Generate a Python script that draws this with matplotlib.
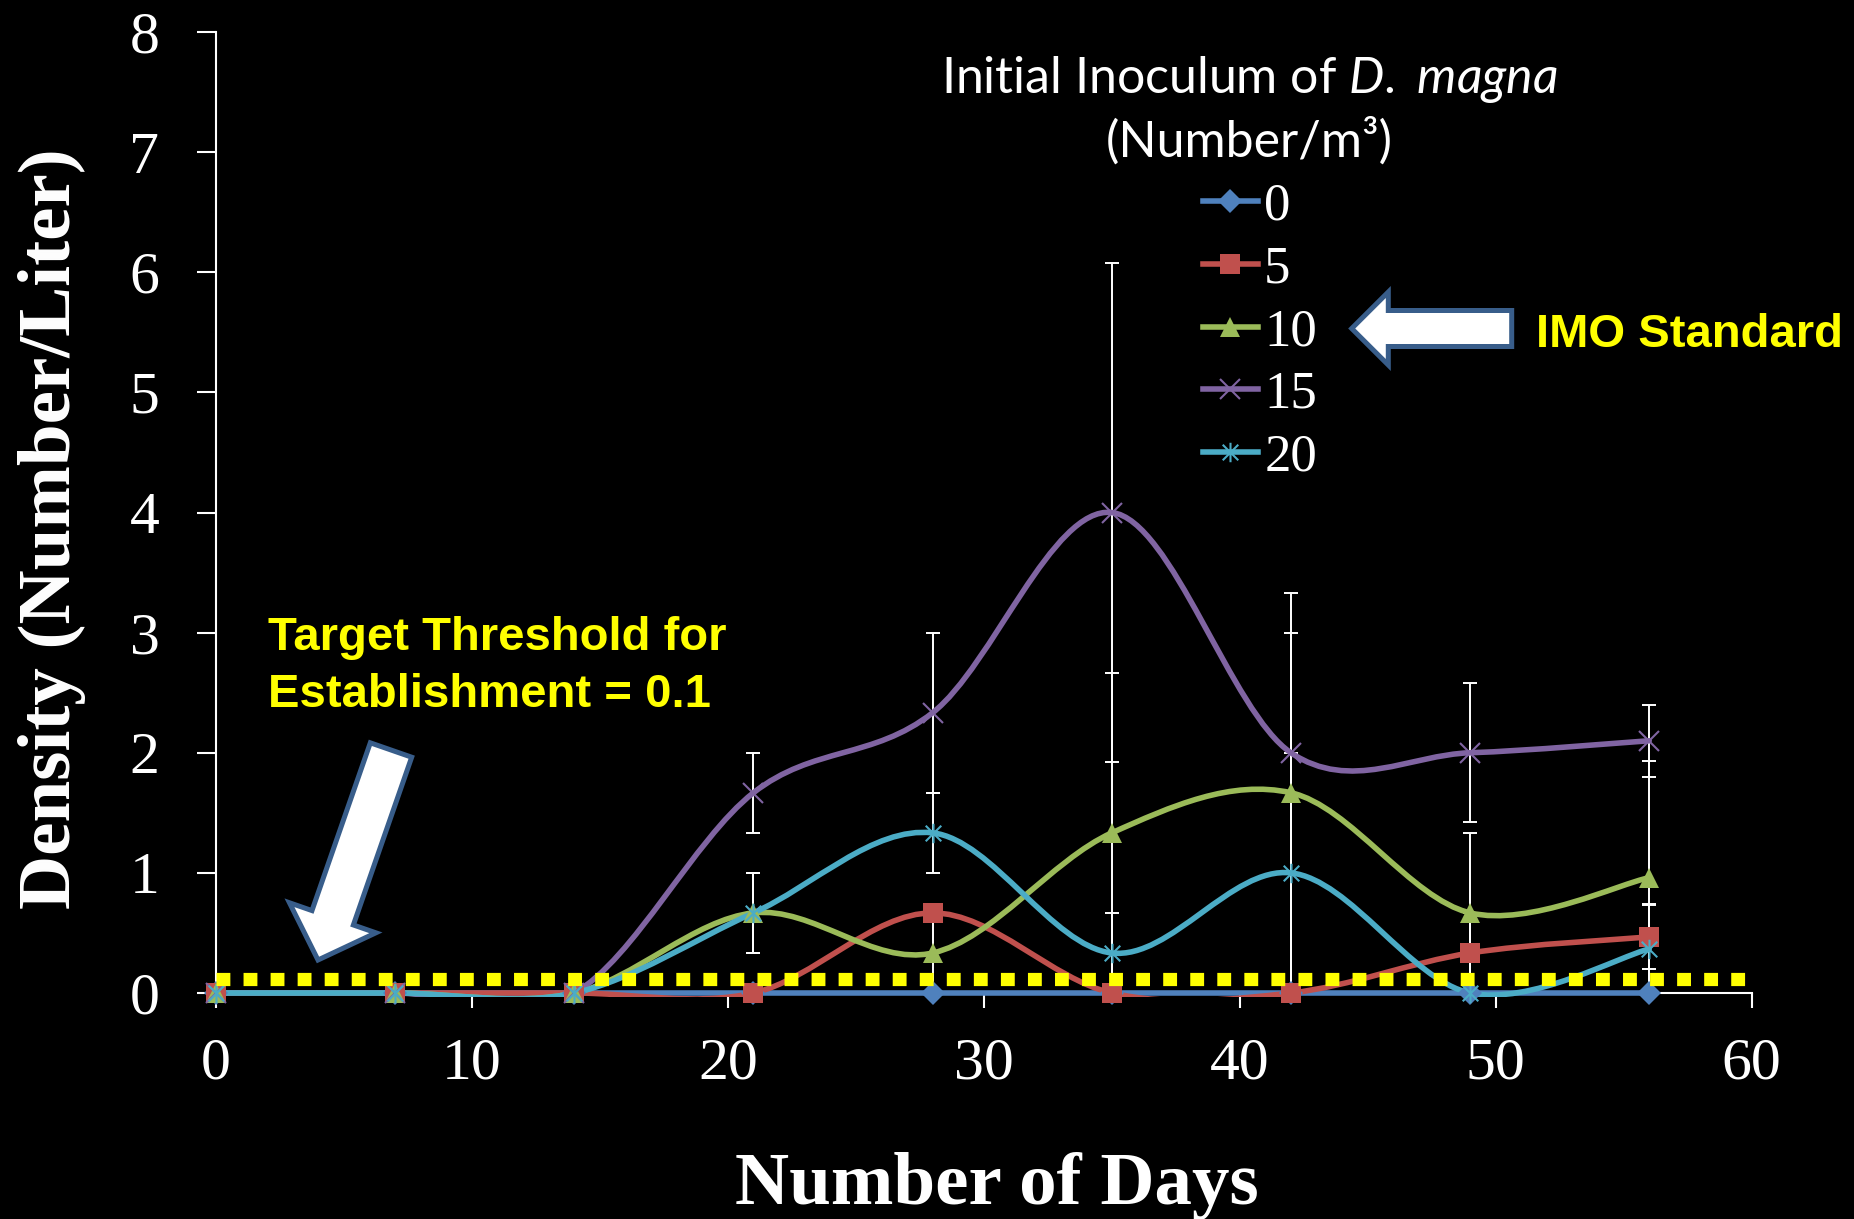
import numpy as np
import matplotlib
matplotlib.use("Agg")
import matplotlib.pyplot as plt
from matplotlib.path import Path
from matplotlib.patches import PathPatch, FancyArrow, Rectangle
from matplotlib.lines import Line2D

# data
days = [0, 7, 14, 21, 28, 35, 42, 49, 56]
inoculum = ['0', '5', '10', '15', '20']
dens_0 = [0, 0, 0, 0, 0, 0, 0, 0, 0]
dens_5 = [0, 0, 0, 0, 0.667, 0, 0, 0.333, 0.467]
dens_10 = [0, 0, 0, 0.667, 0.333, 1.333, 1.667, 0.667, 0.96]
dens_15 = [0, 0, 0, 1.667, 2.333, 4.0, 2.0, 2.0, 2.1]
dens_20 = [0, 0, 0, 0.667, 1.333, 0.333, 1.0, 0, 0.367]
err_0 = [0, 0, 0, 0, 0, 0, 0, 0, 0]
err_5 = [0, 0, 0, 0, 0, 0, 0, 0.333, 0.27]
err_10 = [0, 0, 0, 0.333, 0.333, 1.333, 1.667, 0.667, 0.97]
err_15 = [0, 0, 0, 0.333, 0.667, 2.08, 1.0, 0.577, 0.3]
err_20 = [0, 0, 0, 0.333, 0.333, 0.333, 1.0, 0, 0.367]
threshold_level = 0.12

plt.rcParams['font.family'] = 'Liberation Serif'
plt.rcParams['mathtext.fontset'] = 'custom'
plt.rcParams['mathtext.rm'] = 'Lato'
plt.rcParams['mathtext.it'] = 'Lato:italic'

W, H = 1854, 1219


def smooth_path(xs, ys):
    # excel-like smoothed line (catmull-rom bezier)
    pts = np.column_stack([xs, ys]).astype(float)
    ext = np.vstack([pts[0], pts, pts[-1]])
    verts = [pts[0]]
    codes = [Path.MOVETO]
    for i in range(len(pts) - 1):
        p0, p1, p2, p3 = ext[i], ext[i + 1], ext[i + 2], ext[i + 3]
        verts += [p1 + (p2 - p0) / 6, p2 - (p3 - p1) / 6, p2]
        codes += [Path.CURVE4] * 3
    return Path(verts, codes)


star = Path([(-1, -1), (1, 1), (-1, 1), (1, -1), (0, -1.25), (0, 1.25)],
            [Path.MOVETO, Path.LINETO] * 3)

series = [dens_0, dens_5, dens_10, dens_15, dens_20]
errors = [err_0, err_5, err_10, err_15, err_20]
colors = ['#4F81BD', '#C0504D', '#9BBB59', '#8064A2', '#4BACC6']
markers = ['D', 's', '^', 'x', star]
msizes = [12, 14, 14, 14, 14]

fig = plt.figure(figsize=(W / 100, H / 100), dpi=100, facecolor='black')
ax = fig.add_axes([216 / W, 1 - 993 / H, 1535.6 / W, 961 / H])
ax.set_facecolor('black')

# error bars first (behind)
for ys, es in zip(series, errors):
    d = np.array(days, float)
    y = np.array(ys, float)
    e = np.array(es, float)
    m = e > 0
    if m.any():
        ax.errorbar(d[m], y[m], yerr=e[m], fmt='none', ecolor='white',
                    elinewidth=1.4, capsize=5, capthick=1.4, zorder=2)

handles = []
for ys, c, mk, ms in zip(series, colors, markers, msizes):
    curve = PathPatch(smooth_path(days, ys), fill=False, edgecolor=c,
                      lw=4, zorder=3, capstyle='round')
    ax.add_patch(curve)
    # clip a little below the axis so lines sitting on 0 keep full width
    curve.set_clip_path(Rectangle((-1, -0.035), 62, 9, transform=ax.transData))
    filled = mk in ('D', 's', '^')
    ax.plot(days, ys, linestyle='none', marker=mk, ms=ms, color=c,
            mfc=c if filled else 'none', mew=0 if filled else 1.5, zorder=4,
            clip_on=False)
    handles.append(Line2D([], [], color=c, lw=4, marker=mk, ms=ms,
                          mfc=c if filled else 'none',
                          mew=0 if filled else 1.5))

ax.hlines(threshold_level, 0, 60, colors='#FFFF00', lw=9.5,
          linestyles=(0, (1.05, 1.0)), zorder=5)

ax.set_xlim(0, 60)
ax.set_ylim(0, 8)
ax.set_xticks(range(0, 61, 10))
ax.set_yticks(range(0, 9))
for s in ['top', 'right']:
    ax.spines[s].set_visible(False)
for s in ['left', 'bottom']:
    ax.spines[s].set_color('white')
    ax.spines[s].set_linewidth(1.5)
ax.tick_params(axis='y', length=13.7, width=1.5, pad=27, colors='white',
               labelsize=43)
ax.tick_params(axis='x', length=11, width=1.5, pad=21, colors='white',
               labelsize=43)

ax.set_xlabel('Number of Days', fontsize=54, fontweight='bold', color='white')
ax.xaxis.set_label_coords((997 - 216) / 1535.6, (993 - 1152) / 961)
ax.set_ylabel('Density (Number/Liter)', fontsize=54, fontweight='bold',
              color='white')
ax.yaxis.set_label_coords((86 - 216) / 1535.6, (993 - 529) / 961)

leg = ax.legend(handles, inoculum, loc='upper left',
                bbox_to_anchor=(1203 / 100, (H - 182.5) / 100),
                bbox_transform=fig.dpi_scale_trans, frameon=False,
                borderpad=0, borderaxespad=0, handlelength=1.04,
                handletextpad=0.12, labelspacing=0.28,
                prop={'family': 'Liberation Serif', 'size': 38},
                labelcolor='white')

fig.text(1249 / W, 1 - 92.7 / H, 'Initial Inoculum of $\\mathit{D.\\ magna}$',
         ha='center', va='baseline', family='Lato', fontsize=36, color='white')
fig.text(1249 / W, 1 - 156.7 / H, '(Number/m³)', ha='center', va='baseline',
         family='Lato', fontsize=36, color='white')

# annotations
fig.text(1536 / W, 1 - 346.7 / H, 'IMO Standard', ha='left', va='baseline',
         family='Liberation Sans', fontweight='bold', fontsize=34,
         color='#FFFF00')
fig.text(268 / W, 1 - 650 / H, 'Target Threshold for', ha='left',
         va='baseline', family='Liberation Sans', fontweight='bold',
         fontsize=34, color='#FFFF00')
fig.text(268 / W, 1 - 707 / H, 'Establishment = 0.1', ha='left',
         va='baseline', family='Liberation Sans', fontweight='bold',
         fontsize=34, color='#FFFF00')

arr1 = FancyArrow(15.117, (H - 328.5) / 100, -1.60, 0, width=0.36,
                  head_width=0.73, head_length=0.366,
                  length_includes_head=True, facecolor='white',
                  edgecolor='#385D8A', lw=3.6,
                  transform=fig.dpi_scale_trans)
arr2 = FancyArrow(3.91, (H - 750) / 100, -0.73, -2.10, width=0.438,
                  head_width=0.915, head_length=0.447,
                  length_includes_head=True, facecolor='white',
                  edgecolor='#385D8A', lw=3.6,
                  transform=fig.dpi_scale_trans)
fig.add_artist(arr1)
fig.add_artist(arr2)

fig.savefig('out.png', dpi=100, facecolor='black')
